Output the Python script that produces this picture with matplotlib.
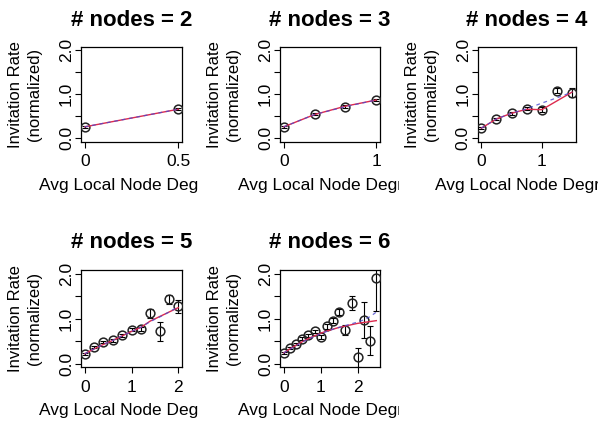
import matplotlib
matplotlib.use("Agg")
import matplotlib.pyplot as plt
from matplotlib.transforms import Bbox, TransformedBbox

plt.rcParams['font.family'] = ['Liberation Sans', 'DejaVu Sans']

# ---------------- data ----------------
node_counts = [2, 3, 4, 5, 6]

x_n2 = [0, 0.5]
y_n2 = [0.26, 0.66]
err_n2 = [0.02, 0.02]
red_n2 = [0.26, 0.66]
blue_n2 = [0.26, 0.66]

x_n3 = [0, 1/3, 2/3, 1]
y_n3 = [0.26, 0.55, 0.72, 0.87]
err_n3 = [0.02, 0.02, 0.03, 0.03]
red_n3 = [0.26, 0.54, 0.73, 0.87]
blue_n3 = [0.26, 0.54, 0.72, 0.87]

x_n4 = [0, 0.25, 0.5, 0.75, 1.0, 1.25, 1.5]
y_n4 = [0.23, 0.44, 0.57, 0.67, 0.65, 1.08, 1.04]
err_n4 = [0.02, 0.02, 0.03, 0.03, 0.05, 0.06, 0.11]
red_n4 = [0.23, 0.44, 0.57, 0.66, 0.65, 0.85, 1.05]
blue_n4 = [0.23, 0.44, 0.57, 0.67, 0.80, 0.92, 1.05]

x_n5 = [0, 0.2, 0.4, 0.6, 0.8, 1.0, 1.2, 1.4, 1.6, 1.8, 2.0]
y_n5 = [0.22, 0.37, 0.48, 0.52, 0.63, 0.76, 0.77, 1.12, 0.72, 1.44, 1.28]
err_n5 = [0.02, 0.02, 0.02, 0.03, 0.03, 0.04, 0.05, 0.10, 0.22, 0.10, 0.15]
red_n5 = [0.22, 0.33, 0.43, 0.52, 0.62, 0.72, 0.81, 0.95, 1.05, 1.15, 1.25]
blue_n5 = [0.22, 0.33, 0.43, 0.52, 0.62, 0.72, 0.81, 0.94, 1.04, 1.15, 1.27]

x_n6 = [0, 1/6, 2/6, 3/6, 4/6, 5/6, 1, 7/6, 8/6, 9/6, 10/6, 11/6, 2, 13/6, 14/6, 15/6]
y_n6 = [0.24, 0.35, 0.44, 0.56, 0.63, 0.72, 0.59, 0.83, 0.96, 1.16, 0.76, 1.35, 0.14, 0.98, 0.51, 1.90]
err_n6 = [0.02, 0.02, 0.02, 0.03, 0.03, 0.04, 0.05, 0.05, 0.06, 0.07, 0.11, 0.16, 0.22, 0.40, 0.32, 0.72]
red_n6 = [0.24, 0.33, 0.41, 0.49, 0.56, 0.62, 0.68, 0.73, 0.77, 0.81, 0.84, 0.87, 0.90, 0.92, 0.94, 0.96]
blue_n6 = [0.24, 0.32, 0.40, 0.48, 0.55, 0.61, 0.67, 0.72, 0.77, 0.81, 0.85, 0.89, 0.93, 0.98, 1.05, 1.15]

x_ticks = [[0, 0.5], [0, 1], [0, 1], [0, 1, 2], [0, 1, 2]]
x_ticklabels = [["0", "0.5"], ["0", "1"], ["0", "1"], ["0", "1", "2"], ["0", "1", "2"]]
y_ticks = [0, 0.5, 1.0, 1.5, 2.0]
y_ticklabels = ["0.0", "", "1.0", "", "2.0"]

panels = [
    (x_n2, y_n2, err_n2, red_n2, blue_n2),
    (x_n3, y_n3, err_n3, red_n3, blue_n3),
    (x_n4, y_n4, err_n4, red_n4, blue_n4),
    (x_n5, y_n5, err_n5, red_n5, blue_n5),
    (x_n6, y_n6, err_n6, red_n6, blue_n6),
]

title_fmt = "# nodes = {}"
xlabel = "Avg Local Node Degree"
ylabel = "Invitation Rate\n(normalized)"

# ---------------- layout ----------------
W, H = 598, 421
fig = plt.figure(figsize=(W / 100, H / 100), dpi=100)

col_lr = [(81, 182), (280, 380), (477.7, 575.7)]
row_tb = [(46.8, 141.8), (270.4, 367.3)]
col_regions = [(0, 199), (199, 399), (399, 598)]
title_base = [25.7, 248.5]

red_c = '#dd2a4e'
blue_c = '#4a4ad0'

for i, (xs, ys, es, rs, bs) in enumerate(panels):
    r, c = divmod(i, 3)
    l, rr = col_lr[c]
    t, b = row_tb[r]
    ax = fig.add_axes([l / W, 1 - b / H, (rr - l) / W, (b - t) / H])
    xmax = max(xs)
    ax.set_xlim(-0.04 * xmax, 1.04 * xmax)
    ax.set_ylim(-0.08, 2.08)

    ax.errorbar(xs, ys, yerr=es, fmt='none', ecolor='black', elinewidth=0.8,
                capsize=2, capthick=0.8, zorder=2)
    ax.plot(xs, ys, linestyle='none', marker='o', markersize=6.3,
            markerfacecolor='none', markeredgecolor='#222222',
            markeredgewidth=1.1, zorder=3)
    ax.plot(xs, rs, color=red_c, linewidth=1.0, zorder=4)
    ax.plot(xs, bs, color=blue_c, linewidth=0.9, linestyle=(0, (3, 3)),
            alpha=0.8, zorder=4)

    ax.set_xticks(x_ticks[i])
    ax.set_xticklabels(x_ticklabels[i])
    ax.set_yticks(y_ticks)
    ax.set_yticklabels(y_ticklabels, rotation=90, va='center')
    ax.tick_params(axis='both', direction='out', length=4, width=0.8,
                   labelsize=12.5, color='black')
    ax.tick_params(axis='x', pad=5)
    ax.tick_params(axis='y', pad=1)
    for s in ax.spines.values():
        s.set_linewidth(0.9)

    lab = ax.set_xlabel(xlabel, fontsize=12.5, labelpad=6)
    x0, x1 = col_regions[c]
    lab.set_clip_box(TransformedBbox(Bbox([[x0 / W, 0], [x1 / W, 1]]), fig.transFigure))
    lab.set_clip_on(True)

    cx = (l + rr) / 2
    fig.text(cx / W, 1 - title_base[r] / H, title_fmt.format(node_counts[i]),
             ha='center', va='baseline', fontsize=16, fontweight='bold')
    fig.text((l - 56) / W, 1 - ((t + b) / 2) / H, ylabel, ha='center', va='center',
             rotation=90, fontsize=12, linespacing=1.3, multialignment='center')

fig.savefig("out.png", dpi=100)
